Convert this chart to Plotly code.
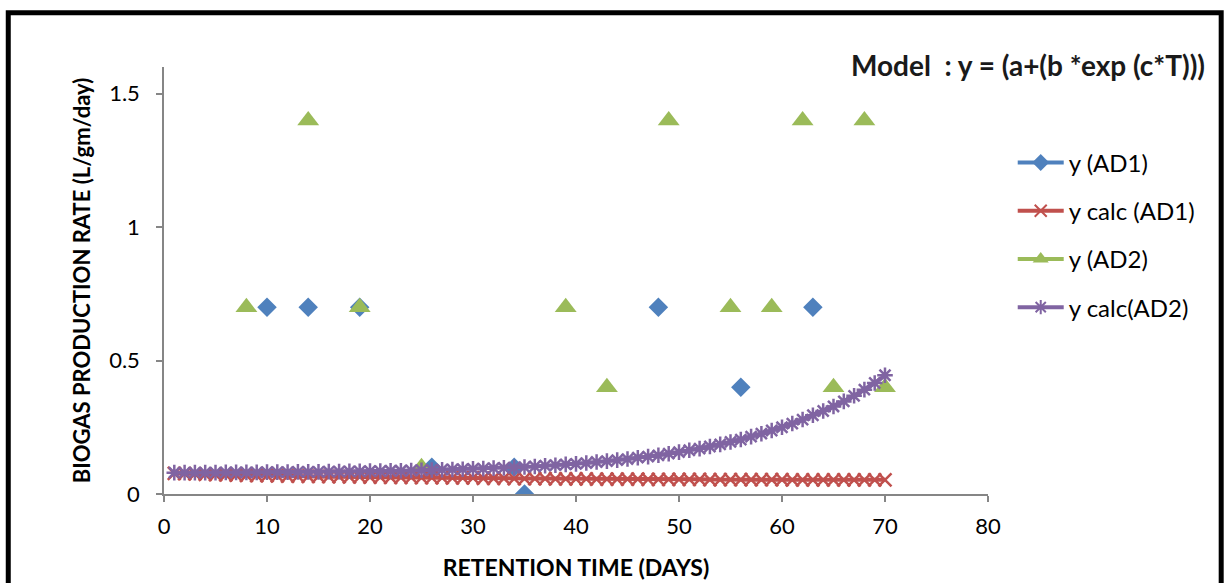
import plotly.graph_objects as go

# Observed biogas production rate (L/gm/day) against retention time (days)
t_ad1 = [10, 14, 19, 26, 34, 35, 48, 56, 63]
y_ad1 = [0.7, 0.7, 0.7, 0.1, 0.1, 0.0, 0.7, 0.4, 0.7]

t_ad2 = [8, 14, 19, 25, 39, 43, 49, 55, 59, 62, 65, 68, 70]
y_ad2 = [0.7, 1.4, 0.7, 0.1, 0.7, 0.4, 1.4, 0.7, 0.7, 1.4, 0.4, 1.4, 0.4]

# Model curves evaluated on each day 1..70
t_calc = list(range(1, 71))
y_calc_ad1 = [
    0.077, 0.076, 0.075, 0.074, 0.073, 0.072, 0.071, 0.070, 0.069, 0.069,
    0.068, 0.067, 0.067, 0.066, 0.066, 0.065, 0.065, 0.064, 0.064, 0.063,
    0.063, 0.062, 0.062, 0.062, 0.061, 0.061, 0.061, 0.060, 0.060, 0.060,
    0.059, 0.059, 0.059, 0.058, 0.058, 0.058, 0.058, 0.057, 0.057, 0.057,
    0.057, 0.056, 0.056, 0.056, 0.056, 0.056, 0.055, 0.055, 0.055, 0.055,
    0.055, 0.055, 0.054, 0.054, 0.054, 0.054, 0.054, 0.054, 0.054, 0.054,
    0.053, 0.053, 0.053, 0.053, 0.053, 0.053, 0.053, 0.053, 0.053, 0.053,
]
y_calc_ad2 = [
    0.080, 0.080, 0.080, 0.080, 0.080, 0.081, 0.081, 0.081, 0.081, 0.082,
    0.082, 0.082, 0.083, 0.083, 0.083, 0.084, 0.084, 0.085, 0.085, 0.086,
    0.086, 0.087, 0.087, 0.088, 0.089, 0.090, 0.091, 0.092, 0.093, 0.094,
    0.095, 0.097, 0.098, 0.099, 0.101, 0.103, 0.106, 0.108, 0.111, 0.113,
    0.116, 0.120, 0.123, 0.127, 0.131, 0.136, 0.140, 0.145, 0.151, 0.157,
    0.164, 0.170, 0.178, 0.186, 0.195, 0.204, 0.215, 0.226, 0.238, 0.250,
    0.264, 0.279, 0.295, 0.311, 0.328, 0.347, 0.368, 0.391, 0.416, 0.445,
]

series_names = ["y (AD1)", "y calc (AD1)", "y (AD2)", "y calc(AD2)"]
x_ticks = [0, 10, 20, 30, 40, 50, 60, 70, 80]
y_ticks = [0, 0.5, 1, 1.5]

BLUE = "#4F81BD"
RED = "#C0504D"
GREEN = "#9BBB59"
PURPLE = "#8064A2"
AXIS = "#868686"
FONT = "Lato"

fig = go.Figure()

# Plotted marks (legend entries are added separately below)
fig.add_trace(go.Scatter(
    x=t_ad1, y=y_ad1, mode="markers", showlegend=False,
    marker=dict(symbol="diamond", size=15, color=BLUE),
))
fig.add_trace(go.Scatter(
    x=t_calc, y=y_calc_ad1, mode="lines+markers", showlegend=False,
    line=dict(color=RED, width=4),
    marker=dict(symbol="x-thin-open", size=13, color=RED,
                line=dict(color=RED, width=2.5)),
))
fig.add_trace(go.Scatter(
    x=t_ad2, y=y_ad2, mode="markers", showlegend=False,
    marker=dict(symbol="triangle-up", size=19, color=GREEN),
))
fig.add_trace(go.Scatter(
    x=t_calc, y=y_calc_ad2, mode="lines+markers", showlegend=False,
    line=dict(color=PURPLE, width=4),
    marker=dict(symbol="asterisk-open", size=13, color=PURPLE,
                line=dict(color=PURPLE, width=2.5)),
))

# Legend keys: line with marker, as in the workbook chart
legend_styles = [
    (BLUE, dict(symbol="diamond", size=13, color=BLUE)),
    (RED, dict(symbol="x-thin-open", size=12, color=RED, line=dict(color=RED, width=2))),
    (GREEN, dict(symbol="triangle-up", size=14, color=GREEN)),
    (PURPLE, dict(symbol="asterisk-open", size=12, color=PURPLE, line=dict(color=PURPLE, width=2))),
]
for i, (name, (col, mk)) in enumerate(zip(series_names, legend_styles)):
    fig.add_trace(go.Scatter(
        x=[None], y=[None], mode="lines+markers", name=name,
        legendgroup=f"g{i}", line=dict(color=col, width=4), marker=mk,
    ))

# Outer chart frame
fig.add_shape(type="rect", xref="paper", yref="paper",
              x0=-0.189, x1=1.283, y0=-0.35, y1=1.127,
              line=dict(color="black", width=5), fillcolor="rgba(0,0,0,0)")

fig.add_annotation(
    xref="paper", yref="paper", x=1.266, y=1.005,
    xanchor="right", yanchor="middle", showarrow=False,
    text="<b>Model  : y = (a+(b *exp (c*T)))</b>",
    font=dict(family=FONT, size=28, color="#1a1a1a"),
)

fig.update_layout(
    width=1227, height=583,
    margin=dict(l=164, r=239, t=67, b=89),
    paper_bgcolor="white", plot_bgcolor="white",
    font=dict(family=FONT, color="black"),
    legend=dict(
        x=1.03, y=0.828, xanchor="left", yanchor="top",
        font=dict(family=FONT, size=24, color="black"),
        traceorder="grouped", tracegroupgap=14,
        itemwidth=46, bgcolor="rgba(0,0,0,0)",
    ),
    xaxis=dict(
        range=[0, 80], tickvals=x_ticks, ticktext=[str(v) for v in x_ticks],
        automargin=False,
        showgrid=False, zeroline=False, showline=True, linecolor=AXIS, linewidth=1.5,
        ticks="outside", ticklen=6, tickcolor=AXIS, tickwidth=1.5,
        ticklabelstandoff=6,
        tickfont=dict(family=FONT, size=22),
        title=dict(text="<b>RETENTION TIME (DAYS)</b>", standoff=22,
                   font=dict(family=FONT, size=23)),
    ),
    yaxis=dict(
        range=[0, 1.6], tickvals=y_ticks, ticktext=["0", "0.5", "1", "1.5"],
        automargin=False,
        showgrid=False, zeroline=False, showline=True, linecolor=AXIS, linewidth=1.5,
        ticks="outside", ticklen=6, tickcolor=AXIS, tickwidth=1.5,
        ticklabelstandoff=12,
        tickfont=dict(family=FONT, size=22),
        title=dict(text="<b>BIOGAS PRODUCTION RATE (L/gm/day)</b>", standoff=12,
                   font=dict(family=FONT, size=22)),
    ),
)

fig.write_html("out.html")
